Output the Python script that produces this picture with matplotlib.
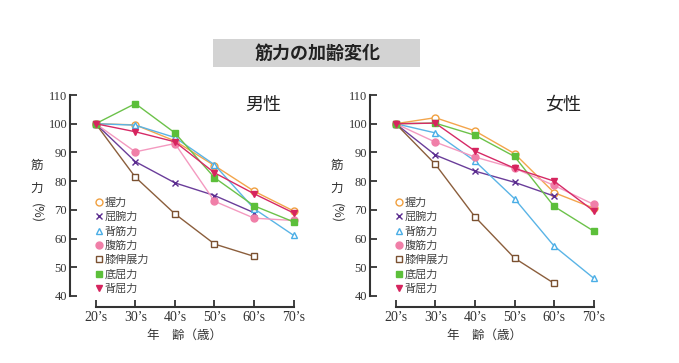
import matplotlib
matplotlib.use("Agg")
import matplotlib.pyplot as plt
from matplotlib.lines import Line2D
from matplotlib.patches import Rectangle

plt.rcParams['font.family'] = ['Noto Sans CJK JP', 'DejaVu Sans']

ages = ["20’s", "30’s", "40’s", "50’s", "60’s", "70’s"]
series_names = ["握力", "屈腕力", "背筋力", "腹筋力", "膝伸展力", "底屈力", "背屈力"]

male = {
    "握力":   [100, 99.6, 94.0, 85.4, 76.5, 69.6],
    "屈腕力": [100, 86.8, 79.4, 75.0, 69.0],
    "背筋力": [100, 99.5, 95.2, 85.7, 70.4, 61.1],
    "腹筋力": [100, 90.2, 93.1, 73.0, 67.1, 66.3],
    "膝伸展力": [100, 81.4, 68.6, 58.1, 53.8],
    "底屈力": [100, 107.0, 96.8, 81.2, 71.4, 65.8],
    "背屈力": [100, 97.2, 93.7, 82.9, 75.6, 68.9],
}
female = {
    "握力":   [100, 102.1, 97.5, 89.6, 76.0, 70.6],
    "屈腕力": [100, 89.1, 83.5, 79.6, 74.8],
    "背筋力": [100, 96.8, 87.0, 73.9, 57.4, 46.2],
    "腹筋力": [100, 93.6, 88.4, 84.5, 78.5, 71.9],
    "膝伸展力": [100, 85.9, 67.6, 53.2, 44.4],
    "底屈力": [100, 100.2, 96.0, 88.6, 71.2, 62.6],
    "背屈力": [100, 100.2, 90.5, 84.5, 80.0, 69.6],
}
yticks = [40, 50, 60, 70, 80, 90, 100, 110]

styles = {
    "握力":   dict(color="#f3a54c", marker="o", mfc="white", mec="#f0a040"),
    "屈腕力": dict(color="#6a3d9a", marker="x", mfc="#6a3d9a", mec="#5b2c8f"),
    "背筋力": dict(color="#5ab4e6", marker="^", mfc="white", mec="#4aaee6"),
    "腹筋力": dict(color="#f49ac0", marker="o", mfc="#f07fa8", mec="#f07fa8"),
    "膝伸展力": dict(color="#8b5e3c", marker="s", mfc="white", mec="#7a5030"),
    "底屈力": dict(color="#6cc24a", marker="s", mfc="#5cbf3a", mec="#5cbf3a"),
    "背屈力": dict(color="#d62a66", marker="v", mfc="#d6245e", mec="#d6245e"),
}

W, H = 679, 363
fig = plt.figure(figsize=(W / 100, H / 100), dpi=100)

# title box
fig.patches.append(Rectangle((213 / W, 1 - 67 / H), (420 - 213) / W, 28 / H,
                             transform=fig.transFigure, facecolor="#d3d3d3",
                             edgecolor="none", zorder=0))
fig.text(318 / W, 1 - 53 / H, "筋力の加齢変化", ha="center", va="center",
         fontsize=13, fontweight="bold", color="#222222")

serif = "Liberation Serif"

def draw(left_px, data, label):
    unit = 39.6
    xl = -25.7 / unit
    xr = 5.12
    width = (xr - xl) * unit
    ax = fig.add_axes([left_px / W, 1 - 296 / H, width / W, 201 / H])
    ax.set_xlim(xl, xr)
    ax.set_ylim(40, 110)
    for name in series_names:
        vals = data[name]
        st = styles[name]
        ax.plot(range(len(vals)), vals, color=st["color"], lw=1.0,
                marker=st["marker"], mfc=st["mfc"], mec=st["mec"],
                ms=5, mew=1.0, zorder=3)
    for s in ["top", "right"]:
        ax.spines[s].set_visible(False)
    for s in ["left", "bottom"]:
        ax.spines[s].set_linewidth(1.5)
        ax.spines[s].set_color("#333333")
    ax.spines["bottom"].set_position(("outward", 8))
    ax.spines["bottom"].set_bounds(0, 5)
    ax.set_xticks(range(len(ages)))
    ax.set_xticklabels(ages, fontfamily=serif, fontsize=10, color="#333333")
    ax.set_yticks(yticks)
    ax.set_yticklabels([str(v) for v in yticks], fontfamily=serif,
                       fontsize=9, color="#333333")
    ax.tick_params(axis="both", direction="in", length=5, width=1.3,
                   color="#333333")
    ax.tick_params(axis="y", pad=2)
    ax.tick_params(axis="x", pad=3)
    ax.set_xlabel("年　齢（歳）", fontsize=9, color="#333333", labelpad=3)
    ax.text(0.846, 0.95, label, transform=ax.transAxes, fontsize=13,
            color="#222222", ha="center", va="center")
    # y label characters
    xs = left_px - 33
    fig.text(xs / W, 1 - 165 / H, "筋", fontsize=9, color="#333333",
             ha="center", va="center")
    fig.text(xs / W, 1 - 188 / H, "力", fontsize=9, color="#333333",
             ha="center", va="center")
    fig.text(xs / W, 1 - 213 / H, "(%)", fontsize=9, color="#333333",
             ha="center", va="center", rotation=-90)
    handles = [Line2D([], [], linestyle="none", marker=styles[n]["marker"],
                      mfc=styles[n]["mfc"], mec=styles[n]["mec"], ms=5,
                      mew=1.0) for n in series_names]
    leg = ax.legend(handles, series_names, loc="upper left",
                    bbox_to_anchor=((left_px + 26) / W, 1 - 198 / H),
                    bbox_transform=fig.transFigure, frameon=False,
                    fontsize=8, handlelength=0.6, handletextpad=0.2,
                    labelspacing=0.36, borderpad=0, borderaxespad=0)
    for t in leg.get_texts():
        t.set_color("#444444")
    return ax

draw(70, male, "男性")
draw(370, female, "女性")

fig.savefig("out.png", dpi=100)
